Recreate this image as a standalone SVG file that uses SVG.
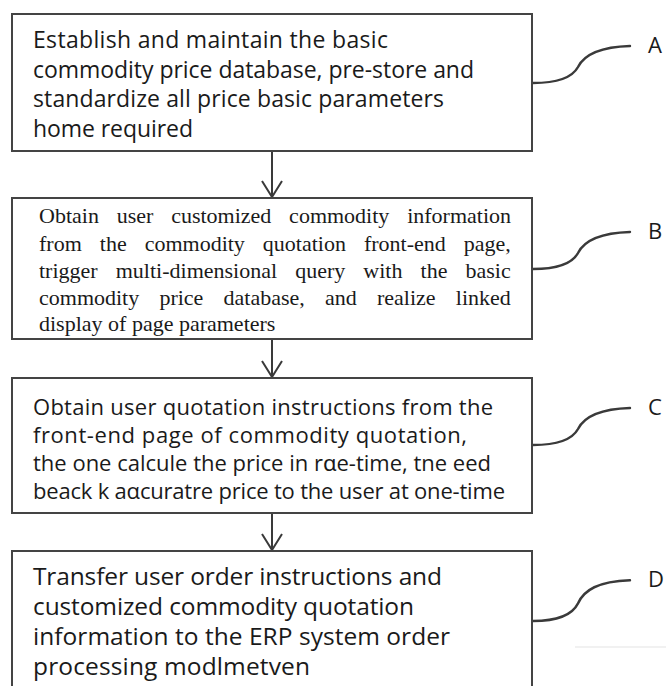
<svg xmlns="http://www.w3.org/2000/svg" xmlns:xlink="http://www.w3.org/1999/xlink" width="666" height="686" viewBox="0 0 666 686">
  <style>
    .box { fill: #ffffff; stroke: #444444; stroke-width: 2; }
    .sans { font-family: "Open Sans", "Noto Sans", "Liberation Sans", sans-serif; fill: #1a1a1a; }
    .serif { font-family: "Liberation Serif", "Times New Roman", serif; font-size: 22px; fill: #1a1a1a; }
    .label { font-family: "Open Sans", "Noto Sans", "Liberation Sans", sans-serif; font-size: 22px; fill: #1a1a1a; }
    .flow { stroke: #3a3a3a; stroke-width: 2; fill: none; }
    .leader { stroke: #3a3a3a; stroke-width: 2.4; fill: none; stroke-linecap: round; }
  </style>
  <defs>
    <!-- open V arrowhead, drawn pointing along +x -->
    <marker id="openArrow" viewBox="0 0 18 22" refX="17" refY="11" markerWidth="18" markerHeight="22" markerUnits="userSpaceOnUse" orient="auto">
      <path d="M1,1 L17,11 L1,21" fill="none" stroke="#3a3a3a" stroke-width="2"/>
    </marker>
    <!-- S-shaped leader from a box edge to its step letter -->
    <path id="leaderCurve" d="M0,0 C23,0 39,-5 45,-16 C51,-28 65,-36 97,-37"/>
  </defs>

  <rect width="666" height="686" fill="#ffffff"/>
  <line x1="575" y1="647" x2="666" y2="647" stroke="#f1f1f1" stroke-width="2"/>

  <!-- connectors -->
  <g id="connectors">
    <line class="flow" x1="272" y1="152" x2="272" y2="197" marker-end="url(#openArrow)"/>
    <line class="flow" x1="272" y1="340" x2="272" y2="377" marker-end="url(#openArrow)"/>
    <line class="flow" x1="272" y1="514" x2="272" y2="550" marker-end="url(#openArrow)"/>
    <use xlink:href="#leaderCurve" class="leader" transform="translate(533,83)"/>
    <use xlink:href="#leaderCurve" class="leader" transform="translate(533,269)"/>
    <use xlink:href="#leaderCurve" class="leader" transform="translate(533,445)"/>
    <use xlink:href="#leaderCurve" class="leader" transform="translate(533,621) scale(1,1.1)"/>
  </g>

  <g id="stepA">
    <rect class="box" x="12" y="14" width="520" height="137"/>
    <text class="sans" font-size="23">
      <tspan x="33" y="48" textLength="355">Establish and maintain the basic</tspan>
      <tspan x="33" y="77.7" textLength="441">commodity price database, pre-store and</tspan>
      <tspan x="33" y="107.4" textLength="411">standardize all price basic parameters</tspan>
      <tspan x="33" y="137" textLength="160">home required</tspan>
    </text>
    <text class="label" x="648" y="53">A</text>
  </g>

  <g id="stepB">
    <rect class="box" x="12" y="198" width="520" height="141"/>
    <text class="serif">
      <tspan x="39" y="223" word-spacing="12.3">Obtain user customized commodity information</tspan>
      <tspan x="39" y="250.5" word-spacing="12.5">from the commodity quotation front-end page,</tspan>
      <tspan x="39" y="277.5" word-spacing="12.6">trigger multi-dimensional query with the basic</tspan>
      <tspan x="39" y="304.5" word-spacing="14.7">commodity price database, and realize linked</tspan>
      <tspan x="39" y="331">display of page parameters</tspan>
    </text>
    <text class="label" x="648" y="239">B</text>
  </g>

  <g id="stepC">
    <rect class="box" x="12" y="378" width="520" height="135"/>
    <text class="sans" font-size="22">
      <tspan x="33" y="415" textLength="460">Obtain user quotation instructions from the</tspan>
      <tspan x="33" y="443" textLength="434">front-end page of commodity quotation,</tspan>
      <tspan x="33" y="471" textLength="458">the one calcule the price in rɑe-time, tne eed</tspan>
      <tspan x="33" y="499" textLength="472">beack k aαcuratre price to the user at one-time</tspan>
    </text>
    <text class="label" x="648" y="415">C</text>
  </g>

  <g id="stepD">
    <rect class="box" x="12" y="551" width="520" height="150"/>
    <text class="sans" font-size="24.5">
      <tspan x="33" y="585" textLength="409">Transfer user order instructions and</tspan>
      <tspan x="33" y="615" textLength="381">customized commodity quotation</tspan>
      <tspan x="33" y="645" textLength="417">information to the ERP system order</tspan>
      <tspan x="33" y="675" textLength="277">processing modlmetven</tspan>
    </text>
    <text class="label" x="648" y="587">D</text>
  </g>
</svg>
